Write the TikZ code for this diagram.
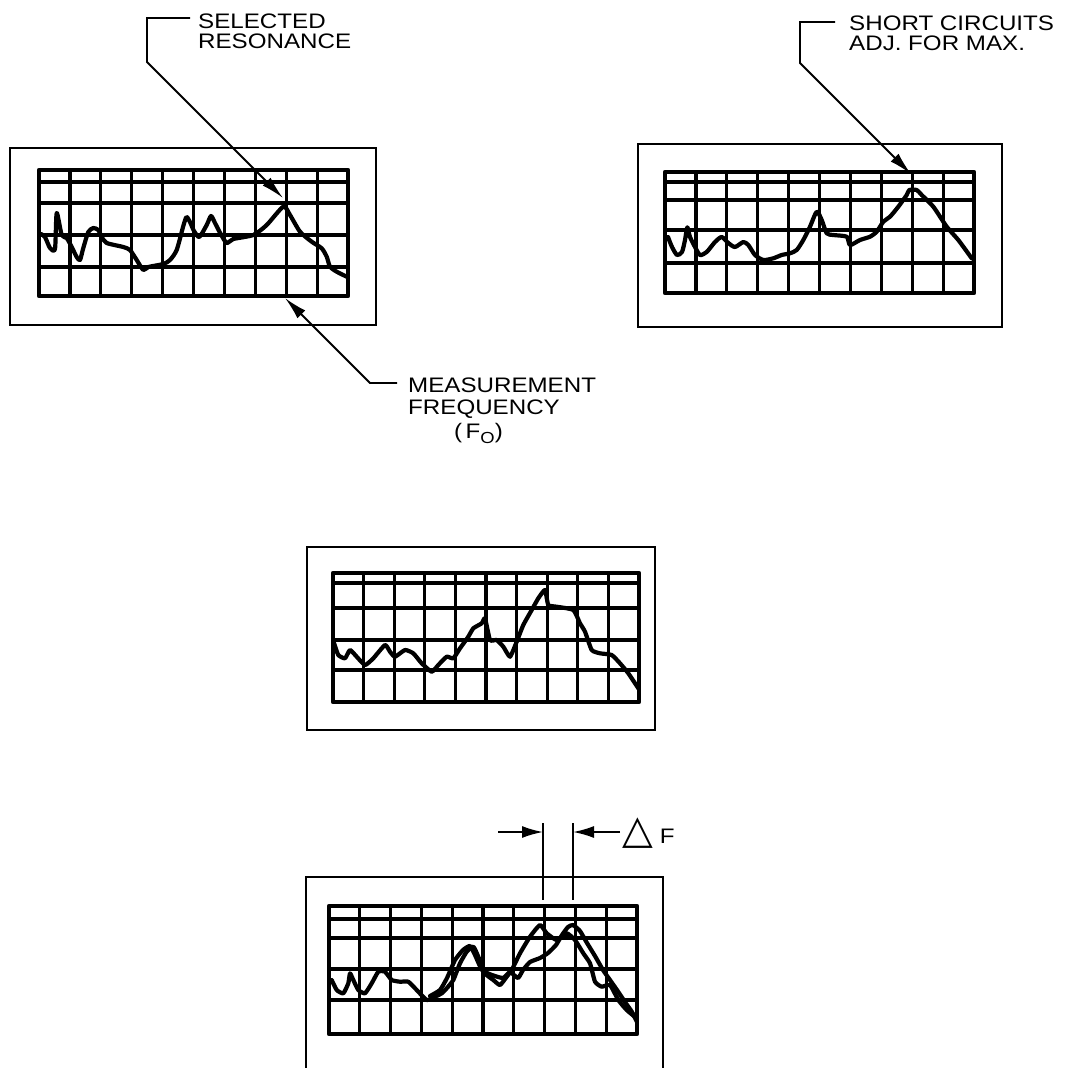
\documentclass[tikz,border=0pt]{standalone}
\usepackage{fontspec}
\setmainfont{Liberation Sans}[FakeStretch=1.15]
\newfontfamily\symfont{DejaVu Sans}
\usetikzlibrary{arrows.meta}
\tikzset{
  panel/.style={line width=1.6pt},
  gridln/.style={line width=3.2pt},
  gridframe/.style={line width=4.2pt, line join=round},
  trace/.style={line width=4.2pt, line join=round, line cap=round},
  leader/.style={line width=1.8pt},
  tipped/.style={-{Latex[length=23pt,width=11pt]}},
  smalltip/.style={-{Latex[length=21pt,width=12pt]}},
  lbl/.style={font=\fontsize{21}{25}\selectfont, inner sep=0pt, anchor=base west,
              text height=15pt, text depth=1pt},
}
\newcommand{\drawscreen}[8]{%
  \foreach \yy in {#4,#5,#6,#7} \draw[gridln] (#1,\yy) -- (#2,\yy);
  \foreach \i in {1,...,9} \draw[gridln] ({#1+(#2-#1)*\i/10},#3) -- ({#1+(#2-#1)*\i/10},#8);
  \draw[gridframe] (#1,#3) rectangle (#2,#8);
}
\begin{document}
\begin{tikzpicture}[x=1pt,y=-1pt]
\useasboundingbox[fill=white] (0,0) rectangle (1065,1068);

% ---------- panel 1 ----------
\draw[panel] (10,148) rectangle (376,325);
\drawscreen{39}{348}{170}{182}{203}{235}{267}{296}
\draw[trace] plot[smooth, tension=0.4] coordinates {
 (41,234) (45,237) (50,248) (55,249) (56.7,213) (61.7,235) (66.7,238) (71.7,247)
 (76.7,257) (80,260) (83.3,248) (88.3,232) (93.3,228) (98.3,230) (101.7,237)
 (106.7,243) (123.3,247) (130,250) (136.7,260) (143.3,270) (148.3,267) (163.3,264)
 (170,260) (176.7,250) (183.3,226) (186.5,217) (190,222) (194,231) (199.3,237)
 (206.7,225) (211,216) (215,223) (220.7,234) (226.7,243) (233.3,239) (253.3,235)
 (266.7,225) (283.3,206.7) (290,215) (300,231.7) (311.7,241.7) (321.7,248.3)
 (326.7,256.7) (330,266.7) (336.7,271.7) (346.7,276.7)};

% ---------- panel 2 ----------
\draw[panel] (638,144) rectangle (1002,327);
\drawscreen{665}{974}{172}{182}{200}{230}{263}{293}
\draw[trace] plot[smooth, tension=0.4] coordinates {
 (668,237) (672,247) (677,255) (682,252) (685,240) (687.3,227.3) (690,237)
 (695,247) (700,255) (706.7,252) (715,242) (721.7,237) (728.3,243) (735,247)
 (743.3,242) (748.3,245) (755,255) (763.3,260) (773.3,258.3) (781.7,255)
 (790,253.3) (796.7,250) (803.3,240) (810,226.7) (816.7,211.7) (821.7,220)
 (826.7,233.3) (833.3,235) (846.7,236.7) (850,245) (860,240) (870,236.7)
 (876.7,231.7) (883.3,221.7) (890,216.7) (898.3,206.7) (906.7,195) (909.3,190)
 (916.7,190) (921.7,195) (933.3,206.7) (946.7,226.7) (958.3,240) (971.7,258.3)};

% ---------- panel 3 ----------
\draw[panel] (307,547) rectangle (655,730);
\drawscreen{333}{639}{573}{583}{608}{640}{670}{702}
\draw[trace] plot[smooth, tension=0.3] coordinates {
 (334,643) (338.3,655) (345,658.3) (350,650) (356.7,656.7) (365,665) (373.3,658.3)
 (385,645) (390,651.7) (395,656.7) (405,650) (413.3,653.3) (421.7,663.3)
 (431.7,671.7) (438.3,665) (446.7,656.7) (453.3,658.3) (460,648.3) (468.3,636.7)
 (473.3,628.3) (481.7,623.3) (485,618.3) (490,640) (496.7,640) (503.3,646.7)
 (510,656.7) (516.7,641.7) (523.3,625) (531.7,610) (538.3,598.3) (545,590)
 (548.3,605) (556.7,606.7) (573.3,610) (580,623.3) (585,631.7) (591.7,650)
 (600,653.3) (611.7,655) (620,663.3) (628.3,673.3) (638.3,688.3)};

% ---------- panel 4 ----------
\draw[panel] (306,1068) -- (306,877) -- (663,877) -- (663,1068);
\drawscreen{329}{637}{906}{919}{938}{969}{1000}{1034}
\draw[trace] plot[smooth, tension=0.3] coordinates {
 (331.7,980) (336.7,990) (343.3,993.3) (348.3,983.3) (350,973.3) (353.3,980)
 (358.3,990) (365,993.3) (371.7,983.3) (378.3,971.7) (385,971.7) (391.7,980)
 (400,981.7) (408.3,981.7) (416.7,990) (426.7,1000) (435,996.7) (441.7,993.3)
 (446.7,988.3) (453.3,980) (460,963.3) (466.7,951.7) (473.3,946.7) (478.3,956.7)
 (485,973.3) (493.3,980) (500,985) (506.7,976.7) (511.7,970) (520,953.3)
 (530,936.7) (540,925) (546.7,933.3) (556.7,940) (566.7,933.3) (575,940)
 (583.3,953.3) (590,963.3) (595,981.7) (601.7,986.7) (610,985) (618.3,1000)
 (626.7,1010) (636.7,1018.3)};
\draw[trace] plot[smooth, tension=0.3] coordinates {
 (430,996) (440,990) (447,978) (455,960) (463,950) (470,946) (475,955)
 (482,970) (492,975) (503,978) (510,972) (518,978) (523,970) (530,962)
 (540,958) (548,953) (556,945) (562,935) (568,927) (573,925) (580,931)
 (587,943) (595,956) (603,970) (610,980) (617,990) (625,1002) (632,1012) (637,1022)};

% ---------- labels and leaders ----------
\node[lbl] (sel1) at (198,28) {SELECTED};
\node[lbl] (sel2) at (198,48) {RESONANCE};
\coordinate (selA) at (190,18);
\coordinate (selB) at (147,18);
\coordinate (selC) at (147,62);
\coordinate (selT) at (283,198);
\draw[leader, tipped] (selA) -- (selB) -- (selC) -- (selT);

\node[lbl] (sc1) at (849,30) {SHORT CIRCUITS};
\node[lbl] (sc2) at (849,50) {ADJ. FOR MAX.};
\coordinate (scA) at (835,22);
\coordinate (scB) at (800,22);
\coordinate (scC) at (800,63);
\coordinate (scT) at (911,174);
\draw[leader, tipped] (scA) -- (scB) -- (scC) -- (scT);

\node[lbl] (ms1) at (408,392) {MEASUREMENT};
\node[lbl] (ms2) at (408,414) {FREQUENCY};
\node[lbl] (ms3) at (454,438) {(\,F\raisebox{-5pt}{\fontsize{16}{16}\selectfont O})};
\coordinate (msA) at (397,383);
\coordinate (msB) at (370,383);
\coordinate (msT) at (285,298);
\draw[leader, tipped] (msA) -- (msB) -- (msT);

% ---------- delta F ----------
\coordinate (dl1) at (543,823);
\coordinate (dl2) at (543,900);
\coordinate (dr1) at (573,823);
\coordinate (dr2) at (573,900);
\draw[leader] (dl1) -- (dl2);
\draw[leader] (dr1) -- (dr2);
\coordinate (dla) at (498,832);
\coordinate (dra) at (620,832);
\draw[leader, smalltip] (dla) -- (dl1 |- dla);
\draw[leader, smalltip] (dra) -- (dr1 |- dra);
\node[lbl] (df) at (622,843) {{\symfont\fontsize{40}{40}\selectfont △}\hspace{7pt}F};
\end{tikzpicture}
\end{document}
